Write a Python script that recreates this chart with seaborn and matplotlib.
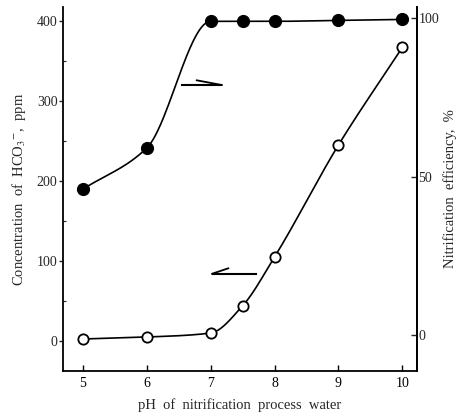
import numpy as np
import pandas as pd
import matplotlib
matplotlib.use("Agg")
import matplotlib.pyplot as plt
import seaborn as sns
from matplotlib.ticker import MultipleLocator

# ---- data ----
ph = [5, 6, 7, 7.5, 8, 9, 10]
hco3_ppm = [2.5, 5, 10, 44, 105, 245, 367]          # open circles, left axis
ph_eff = [5, 6, 7, 7.5, 8, 9, 10]
efficiency = [46, 59, 99, 99, 99, 99.3, 99.6]       # filled circles, right axis
x_ticks = [5, 6, 7, 8, 9, 10]
left_ticks = [0, 100, 200, 300, 400]
right_ticks = [0, 50, 100]

sns.set_theme(style="white")
plt.rcParams["font.family"] = ["Liberation Serif", "DejaVu Serif"]
plt.rcParams["mathtext.fontset"] = "stix"


def pchip(x, y, xs):
    """Monotone cubic curve drawn through the data points (for the smooth line)."""
    x = np.asarray(x, float)
    y = np.asarray(y, float)
    h = np.diff(x)
    d = np.diff(y) / h
    m = np.zeros_like(y)
    m[0], m[-1] = d[0], d[-1]
    for k in range(1, len(x) - 1):
        if d[k - 1] * d[k] <= 0:
            m[k] = 0.0
        else:
            w1 = 2 * h[k] + h[k - 1]
            w2 = h[k] + 2 * h[k - 1]
            m[k] = (w1 + w2) / (w1 / d[k - 1] + w2 / d[k])
    out = np.empty_like(xs)
    idx = np.clip(np.searchsorted(x, xs) - 1, 0, len(x) - 2)
    for i, (xv, k) in enumerate(zip(xs, idx)):
        t = (xv - x[k]) / h[k]
        h00 = 2 * t**3 - 3 * t**2 + 1
        h10 = t**3 - 2 * t**2 + t
        h01 = -2 * t**3 + 3 * t**2
        h11 = t**3 - t**2
        out[i] = h00 * y[k] + h10 * h[k] * m[k] + h01 * y[k + 1] + h11 * h[k] * m[k + 1]
    return out


fig = plt.figure(figsize=(4.58, 4.17), dpi=100)
ax = fig.add_axes([0.1376, 0.1103, 0.7729, 0.8727])
ax2 = ax.twinx()

# smooth curves
xs = np.linspace(min(ph), max(ph), 300)
curve_open = pd.DataFrame({"pH": xs, "v": pchip(ph, hco3_ppm, xs)})
xs2 = np.linspace(min(ph_eff), max(ph_eff), 300)
curve_fill = pd.DataFrame({"pH": xs2, "v": pchip(ph_eff, efficiency, xs2)})

sns.lineplot(data=curve_open, x="pH", y="v", ax=ax, color="black", lw=1.2, zorder=2)
sns.lineplot(data=curve_fill, x="pH", y="v", ax=ax2, color="black", lw=1.2, zorder=2)

df_open = pd.DataFrame({"pH": ph, "v": hco3_ppm})
df_fill = pd.DataFrame({"pH": ph_eff, "v": efficiency})
sns.scatterplot(data=df_open, x="pH", y="v", ax=ax, s=55, facecolor="white",
                edgecolor="black", linewidth=1.3, zorder=3)
sns.scatterplot(data=df_fill, x="pH", y="v", ax=ax2, s=75, color="black",
                edgecolor="black", linewidth=0.8, zorder=3)

# limits
ax.set_xlim(4.69, 10.23)
ax.set_ylim(-37.5, 417.5)
ax2.set_ylim(-11.4, 103.5)

# ticks
ax.set_xticks(x_ticks)
ax.set_yticks(left_ticks)
ax.yaxis.set_minor_locator(MultipleLocator(50))
ax2.set_yticks(right_ticks)
ax.tick_params(axis="x", direction="in", length=4, width=1, pad=4, labelsize=10,
               bottom=True, colors="black")
ax.tick_params(axis="y", which="major", direction="out", length=3, width=1, pad=1,
               labelsize=10, left=True)
ax.tick_params(axis="y", which="minor", direction="in", length=2, width=0.8, left=True)
ax2.tick_params(axis="y", direction="in", length=4, width=1, pad=1, labelsize=10, right=True)

for a in (ax, ax2):
    a.spines["top"].set_visible(False)
    for s in ("left", "bottom", "right"):
        a.spines[s].set_color("black")
        a.spines[s].set_linewidth(1.3)
    a.grid(False)
ax2.spines["left"].set_visible(False)
ax2.spines["bottom"].set_visible(False)

# labels
ax.set_xlabel("pH  of  nitrification  process  water", fontsize=10.5, labelpad=6)
ax.set_ylabel(r"Concentration  of  HCO$_3$$^{-}$,  ppm", fontsize=10.5, labelpad=6)
ax2.set_ylabel("Nitrification  efficiency,  %", fontsize=10.5, rotation=90)
ax2.yaxis.set_label_coords(1.075, 0.5)

# arrows indicating axes
ax.plot([6.53, 7.18], [320, 320], color="black", lw=1.5, solid_capstyle="butt")
ax.plot([7.18, 6.78], [320, 326], color="black", lw=1.3)
ax.plot([7.02, 7.72], [84, 84], color="black", lw=1.5, solid_capstyle="butt")
ax.plot([7.02, 7.28], [84, 91], color="black", lw=1.3)

fig.savefig("out.png", dpi=100)
